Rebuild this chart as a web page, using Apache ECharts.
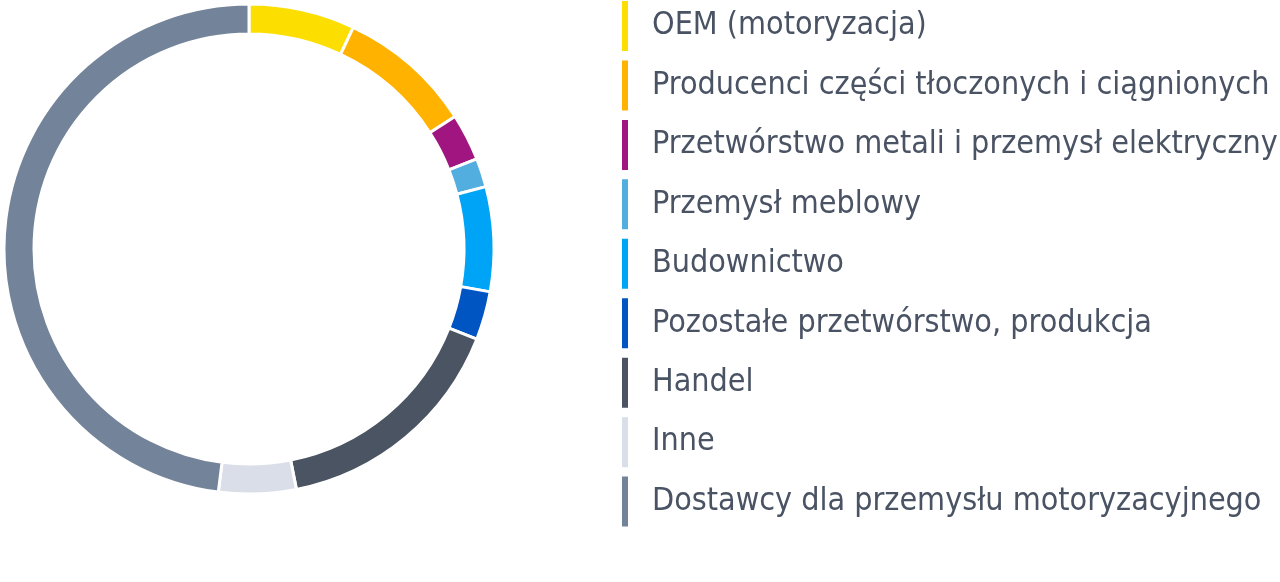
<!DOCTYPE html>
<html>
<head>
<meta charset="utf-8">
<script src="https://cdn.jsdelivr.net/npm/echarts@6/dist/echarts.min.js"></script>
<style>
  html, body { margin: 0; padding: 0; background: #fff; }
  #chart { width: 1280px; height: 582px; }
</style>
</head>
<body>
<div id="chart"></div>
<script>
// kategorie i udziały (%)
var categories = [
  "OEM (motoryzacja)",
  "Producenci części tłoczonych i ciągnionych",
  "Przetwórstwo metali i przemysł elektryczny",
  "Przemysł meblowy",
  "Budownictwo",
  "Pozostałe przetwórstwo, produkcja",
  "Handel",
  "Inne",
  "Dostawcy dla przemysłu motoryzacyjnego"
];
var shares = [7.0, 8.9, 3.1, 1.9, 6.9, 3.2, 15.9, 5.1, 48.0];
var colors = [
  "#FCDF00", "#FFB200", "#A0157F", "#52AEDF", "#00A4F7",
  "#0055C2", "#4B5463", "#D9DEE8", "#738399"
];

var fontFamily = '"Liberation Sans Narrow", "DejaVu Sans Condensed", sans-serif';

// dopasuj rozmiar czcionki do szerokości najdłuższej etykiety
function fitFontSize(text, target) {
  var ctx = document.createElement("canvas").getContext("2d");
  ctx.font = "100px " + fontFamily;
  var w = ctx.measureText(text).width;
  return Math.min(36, 100 * target / w);
}
var fontSize = fitFontSize(categories[2], 626);

var myChart = echarts.init(document.getElementById("chart"), null, { renderer: "canvas" });

var option = {
  animation: false,
  color: colors,
  legend: {
    orient: "vertical",
    left: 620,
    top: -1,
    padding: 0,
    icon: "rect",
    itemWidth: 8,
    itemHeight: 52,
    itemGap: 5.45,
    selectedMode: false,
    data: categories,
    textStyle: {
      fontFamily: fontFamily,
      fontSize: fontSize,
      lineHeight: 40,
      color: "#4A5364",
      padding: [0, 0, 0, 18]
    }
  },
  series: [
    {
      type: "pie",
      center: [249, 249],
      radius: [215, 245],
      startAngle: 90,
      clockwise: true,
      silent: true,
      label: { show: false },
      labelLine: { show: false },
      itemStyle: {
        borderColor: "#fff",
        borderWidth: 3
      },
      data: categories.map(function (name, i) {
        return { name: name, value: shares[i] };
      })
    }
  ]
};

myChart.setOption(option);
</script>
</body>
</html>
